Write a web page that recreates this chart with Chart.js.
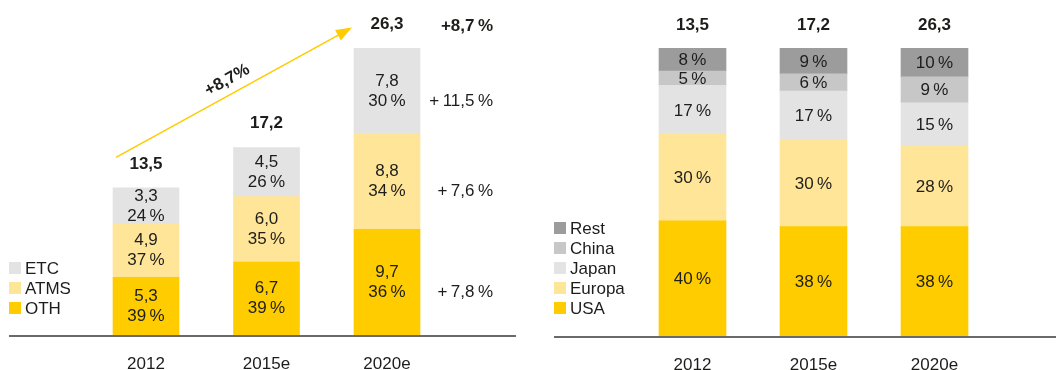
<!DOCTYPE html>
<html>
<head>
<meta charset="utf-8">
<script src="https://cdn.jsdelivr.net/npm/chart.js@4.4.1/dist/chart.umd.min.js"></script>
<style>
  html, body { margin: 0; padding: 0; background: #fff; }
  #wrap { position: relative; width: 1056px; height: 370px; overflow: hidden; }
  #left { position: absolute; left: 0; top: 0; }
  #right { position: absolute; left: 530px; top: 0; }
</style>
</head>
<body>
<div id="wrap">
  <canvas id="left" width="530" height="370"></canvas>
  <canvas id="right" width="526" height="370"></canvas>
</div>
<script>
// Categories
const years = ['2012', '2015e', '2020e'];

// Market by segment (absolute values)
const othValues  = [5.3, 6.7, 9.7];
const atmsValues = [4.9, 6.0, 8.8];
const etcValues  = [3.3, 4.5, 7.8];

// Segment shares as printed
const othShares  = ['39', '39', '36'];
const atmsShares = ['37', '35', '34'];
const etcShares  = ['24', '26', '30'];

// Growth rates per segment and overall
const othCagr  = '+\u20097,8\u2009%';
const atmsCagr = '+\u20097,6\u2009%';
const etcCagr  = '+\u200911,5\u2009%';
const totalCagr = '+8,7\u2009%';
const arrowLabel = '+8,7%';

// Market by region (shares in %)
const usaShares    = [40, 38, 38];
const europaShares = [30, 30, 28];
const japanShares  = [17, 17, 15];
const chinaShares  = [5, 6, 9];
const restShares   = [8, 9, 10];

const COL_YELLOW = '#FFCC00';
const COL_LIGHTY = '#FFE597';
const COL_LGREY  = '#E3E3E3';
const COL_MGREY  = '#C6C7C6';
const COL_DGREY  = '#9C9C9C';
const TEXT = '#1d1d1b';
const FONT = '"Liberation Sans", Arial, Helvetica, sans-serif';
const FS = 17;

const fmt = v => v.toFixed(1).replace('.', ',');
const totals = years.map((_, i) => othValues[i] + atmsValues[i] + etcValues[i]);

function drawLegend(ctx, chart, x, yBottom) {
  const ds = chart.data.datasets;
  ctx.save();
  ctx.font = FS + 'px ' + FONT;
  ctx.textBaseline = 'middle';
  ctx.textAlign = 'left';
  for (let i = 0; i < ds.length; i++) {
    const y = yBottom - i * 20;
    ctx.fillStyle = ds[i].backgroundColor;
    ctx.fillRect(x, y - 6, 12, 12);
    ctx.fillStyle = TEXT;
    ctx.fillText(ds[i].label, x + 16, y + 1);
  }
  ctx.restore();
}

function drawBaseline(ctx, chart, x0, x1) {
  const y = chart.scales.y.getPixelForValue(0);
  ctx.save();
  ctx.strokeStyle = '#6a6a6a';
  ctx.lineWidth = 2;
  ctx.beginPath();
  ctx.moveTo(x0, y + 1);
  ctx.lineTo(x1, y + 1);
  ctx.stroke();
  ctx.restore();
}

// Left chart: absolute values with shares, totals, growth rates and trend arrow
const leftLabels = {
  id: 'leftLabels',
  afterDatasetsDraw(chart) {
    const ctx = chart.ctx;
    const shares = [othShares, atmsShares, etcShares];
    const values = [othValues, atmsValues, etcValues];
    ctx.save();
    ctx.fillStyle = TEXT;
    ctx.textAlign = 'center';
    ctx.textBaseline = 'middle';
    ctx.font = FS + 'px ' + FONT;
    chart.data.datasets.forEach((ds, di) => {
      const meta = chart.getDatasetMeta(di);
      meta.data.forEach((el, i) => {
        const cy = (el.y + el.base) / 2;
        ctx.fillText(fmt(values[di][i]), el.x, cy - 10);
        ctx.fillText(shares[di][i] + '\u2009%', el.x, cy + 10);
      });
    });
    // totals above bars
    const top = chart.getDatasetMeta(2);
    ctx.font = 'bold ' + FS + 'px ' + FONT;
    top.data.forEach((el, i) => {
      ctx.fillText(fmt(totals[i]), el.x, el.y - 24);
    });
    // growth rates to the right of the last bar
    ctx.textAlign = 'right';
    const rx = chart.scales.x.getPixelForValue(2) + 106;
    ctx.fillText(totalCagr, rx, top.data[2].y - 22);
    ctx.font = FS + 'px ' + FONT;
    const cagrs = [othCagr, atmsCagr, etcCagr];
    chart.data.datasets.forEach((ds, di) => {
      const el = chart.getDatasetMeta(di).data[2];
      ctx.fillText(cagrs[di], rx, (el.y + el.base) / 2 + 10);
    });
    ctx.restore();

    // trend arrow
    const xs = chart.scales.x, ys = chart.scales.y;
    const x0 = xs.getPixelForValue(0) - 30, y0 = ys.getPixelForValue(16.3);
    const x1 = xs.getPixelForValue(2) - 35, y1 = ys.getPixelForValue(28.2);
    const ang = Math.atan2(y1 - y0, x1 - x0);
    const len = Math.hypot(x1 - x0, y1 - y0);
    ctx.save();
    ctx.translate(x0, y0);
    ctx.rotate(ang);
    ctx.strokeStyle = COL_YELLOW;
    ctx.fillStyle = COL_YELLOW;
    ctx.lineWidth = 1.6;
    ctx.beginPath();
    ctx.moveTo(0, 0);
    ctx.lineTo(len - 12, 0);
    ctx.stroke();
    ctx.beginPath();
    ctx.moveTo(len, 0);
    ctx.lineTo(len - 16, -6);
    ctx.lineTo(len - 16, 6);
    ctx.closePath();
    ctx.fill();
    ctx.fillStyle = TEXT;
    ctx.font = 'bold ' + FS + 'px ' + FONT;
    ctx.textAlign = 'center';
    ctx.textBaseline = 'middle';
    ctx.fillText(arrowLabel, len * 0.5, -14);
    ctx.restore();

    drawLegend(ctx, chart, 9, 308);
    drawBaseline(ctx, chart, 9, 516);
  }
};

const leftChart = new Chart(document.getElementById('left'), {
  type: 'bar',
  data: {
    labels: years,
    datasets: [
      { label: 'OTH',  data: othValues,  backgroundColor: COL_YELLOW },
      { label: 'ATMS', data: atmsValues, backgroundColor: COL_LIGHTY },
      { label: 'ETC',  data: etcValues,  backgroundColor: COL_LGREY }
    ]
  },
  options: {
    responsive: false,
    animation: false,
    events: [],
    layout: { padding: { left: 85.75, right: 82.75, top: 8, bottom: -24 } },
    plugins: { legend: { display: false }, tooltip: { enabled: false } },
    datasets: { bar: { barThickness: 66, borderWidth: 0 } },
    scales: {
      x: {
        stacked: true,
        grid: { display: false, drawTicks: false },
        border: { display: false },
        ticks: { color: TEXT, padding: 21, font: { family: FONT, size: 17, lineHeight: 1 } }
      },
      y: { stacked: true, display: false, min: 0, max: 30 }
    }
  },
  plugins: [leftLabels]
});

// Right chart: regional shares
const rightLabels = {
  id: 'rightLabels',
  afterDatasetsDraw(chart) {
    const ctx = chart.ctx;
    ctx.save();
    ctx.fillStyle = TEXT;
    ctx.textAlign = 'center';
    ctx.textBaseline = 'middle';
    ctx.font = FS + 'px ' + FONT;
    chart.data.datasets.forEach((ds, di) => {
      chart.getDatasetMeta(di).data.forEach((el, i) => {
        ctx.fillText(ds.data[i] + '\u2009%', el.x, (el.y + el.base) / 2 + 1);
      });
    });
    ctx.font = 'bold ' + FS + 'px ' + FONT;
    const top = chart.getDatasetMeta(chart.data.datasets.length - 1);
    top.data.forEach((el, i) => {
      ctx.fillText(fmt(totals[i]), el.x, el.y - 23);
    });
    ctx.restore();
    drawLegend(ctx, chart, 24, 308);
    drawBaseline(ctx, chart, 24, 526);
  }
};

const rightChart = new Chart(document.getElementById('right'), {
  type: 'bar',
  data: {
    labels: years,
    datasets: [
      { label: 'USA',    data: usaShares,    backgroundColor: COL_YELLOW },
      { label: 'Europa', data: europaShares, backgroundColor: COL_LIGHTY },
      { label: 'Japan',  data: japanShares,  backgroundColor: COL_LGREY },
      { label: 'China',  data: chinaShares,  backgroundColor: COL_MGREY },
      { label: 'Rest',   data: restShares,   backgroundColor: COL_DGREY }
    ]
  },
  options: {
    responsive: false,
    animation: false,
    events: [],
    layout: { padding: { left: 102, right: 61, top: 48, bottom: -25 } },
    plugins: { legend: { display: false }, tooltip: { enabled: false } },
    datasets: { bar: { barThickness: 67, borderWidth: 0 } },
    scales: {
      x: {
        stacked: true,
        grid: { display: false, drawTicks: false },
        border: { display: false },
        ticks: { color: TEXT, padding: 21, font: { family: FONT, size: 17, lineHeight: 1 } }
      },
      y: { stacked: true, display: false, min: 0, max: 100 }
    }
  },
  plugins: [rightLabels]
});
</script>
</body>
</html>
